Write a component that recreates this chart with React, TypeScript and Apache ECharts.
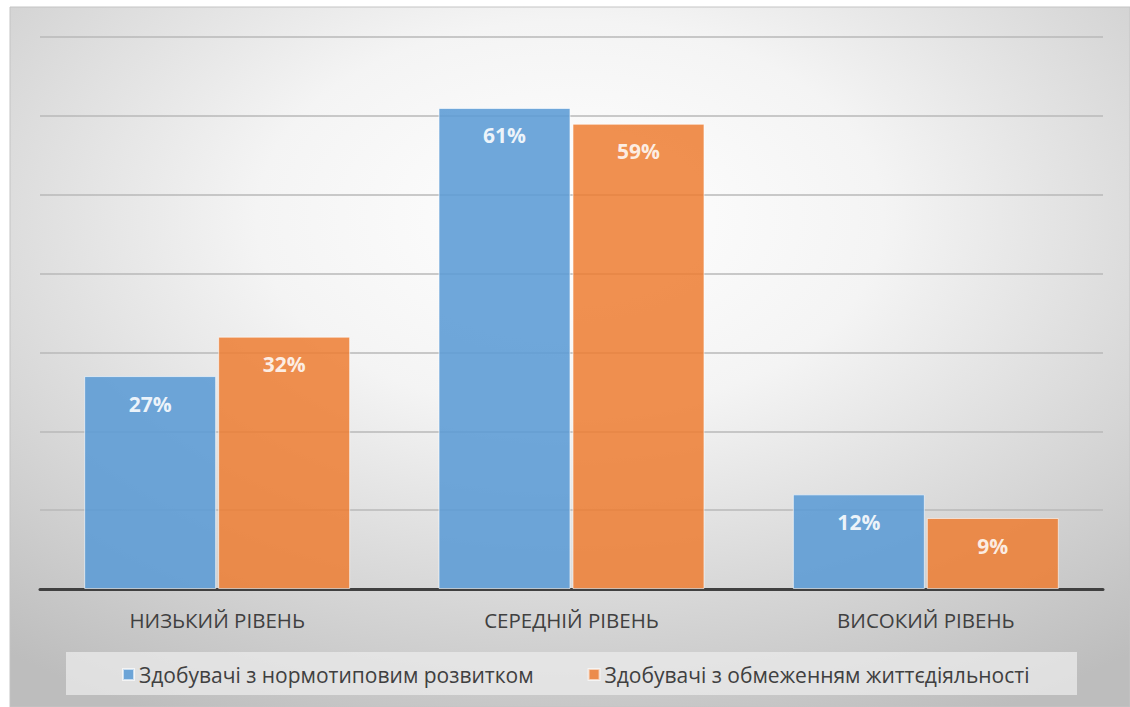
import React, { useEffect, useRef } from "react";
import * as echarts from "echarts";

const categories = ["НИЗЬКИЙ РІВЕНЬ", "СЕРЕДНІЙ РІВЕНЬ", "ВИСОКИЙ РІВЕНЬ"];
const seriesNames = [
  "Здобувачі з нормотиповим розвитком",
  "Здобувачі з обмеженням життєдіяльності",
];
const normValues = [27, 61, 12];
const limitedValues = [32, 59, 9];

export default function App() {
  const ref = useRef<HTMLDivElement>(null);
  useEffect(() => {
    if (!ref.current) return;
    const chart = echarts.init(ref.current, null, { renderer: "svg" });
    const font = "'Open Sans', 'Noto Sans', sans-serif";
    const label = {
      show: true,
      position: "insideTop",
      distance: 17,
      formatter: "{c}%",
      color: "#ffffff",
      fontWeight: "bold",
      fontSize: 21,
      fontFamily: font,
    };
    chart.setOption({
      animation: false,
      textStyle: { fontFamily: font },
      graphic: [
        {
          type: "rect",
          z: -10,
          silent: true,
          shape: { x: 10, y: 7, width: 1120, height: 700 },
          style: {
            fill: new echarts.graphic.RadialGradient(0.5, 0.3, 0.8, [
              { offset: 0, color: "#ffffff" },
              { offset: 0.35, color: "#f4f4f4" },
              { offset: 1, color: "#bdbdbd" },
            ]),
            stroke: "#c4c4c4",
            lineWidth: 1,
          },
        },
        {
          type: "rect",
          z: -5,
          silent: true,
          shape: { x: 66, y: 652, width: 1011, height: 43 },
          style: { fill: "rgba(235,235,235,0.75)" },
        },
      ],
      grid: { left: 40, right: 27, top: 37, bottom: 118, containLabel: false },
      legend: {
        top: 659,
        left: 117,
        itemWidth: 11,
        itemHeight: 11,
        itemGap: 54,
        icon: "rect",
        textStyle: { fontSize: 21, color: "#404040", fontFamily: font },
        data: seriesNames,
      },
      xAxis: {
        type: "category",
        data: categories,
        axisLine: { lineStyle: { color: "#404040", width: 3 } },
        axisTick: { show: false },
        axisLabel: { fontSize: 20.5, color: "#404040", margin: 20, fontFamily: font },
      },
      yAxis: {
        type: "value",
        min: 0,
        max: 70,
        interval: 10,
        axisLabel: { show: false },
        axisLine: { show: false },
        axisTick: { show: false },
        splitLine: { lineStyle: { color: "#b8b8b8", width: 1.5 } },
      },
      series: [
        {
          name: seriesNames[0],
          type: "bar",
          data: normValues,
          barWidth: 132,
          barGap: "1.5%",
          itemStyle: {
            color: "#5B9BD5",
            opacity: 0.88,
            borderColor: "rgba(255,255,255,0.7)",
            borderWidth: 1,
          },
          label,
        },
        {
          name: seriesNames[1],
          type: "bar",
          data: limitedValues,
          barWidth: 132,
          barGap: "1.5%",
          itemStyle: {
            color: "#ED7D31",
            opacity: 0.85,
            borderColor: "rgba(255,255,255,0.7)",
            borderWidth: 1,
          },
          label,
        },
      ],
    });
    return () => chart.dispose();
  }, []);
  return (
    <div
      ref={ref}
      style={{ position: "absolute", left: 0, top: 0, width: 1130, height: 707, background: "#ffffff" }}
    />
  );
}
